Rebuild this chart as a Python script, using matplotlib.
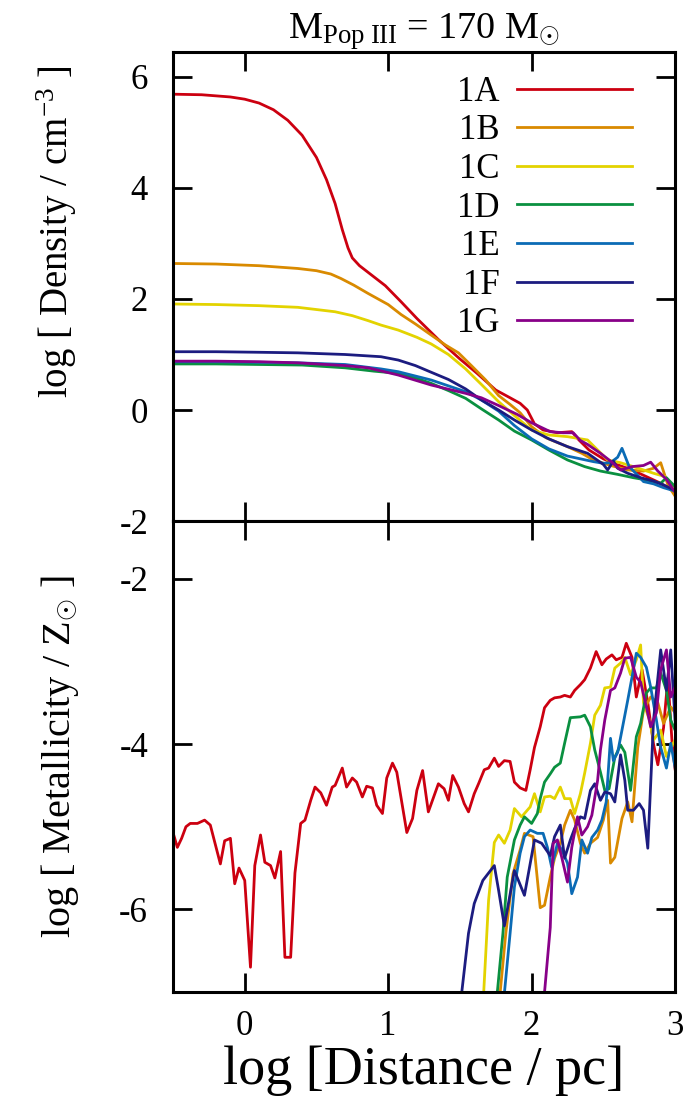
import matplotlib
matplotlib.use("Agg")
import matplotlib.pyplot as plt

plt.rcParams["font.family"] = ["Liberation Serif", "DejaVu Serif"]
plt.rcParams["mathtext.fontset"] = "custom"
plt.rcParams["mathtext.rm"] = "Liberation Serif"
plt.rcParams["mathtext.it"] = "Liberation Serif:italic"
plt.rcParams["axes.unicode_minus"] = False

# Series labels and colours
labels = ["1A", "1B", "1C", "1D", "1E", "1F", "1G"]
colors = ["#cc0010", "#d98a00", "#e3d300", "#0a9040", "#0b6bb5", "#1c1c80", "#880088"]

# ---- density profiles: log r [pc], log n [cm^-3]
dens_x_1A = [-0.5, -0.3, -0.1, 0.0, 0.1, 0.2, 0.3, 0.4, 0.5, 0.57, 0.63, 0.68, 0.72, 0.75, 0.8, 0.88,
             0.98, 1.09, 1.2, 1.35, 1.5, 1.62, 1.75, 1.85, 1.92, 1.97, 2.02, 2.08, 2.18, 2.28, 2.33,
             2.4, 2.5, 2.58, 2.7, 2.8, 2.9, 3.0]
dens_y_1A = [5.69, 5.68, 5.64, 5.6, 5.53, 5.41, 5.22, 4.95, 4.55, 4.15, 3.72, 3.25, 2.92, 2.74, 2.6,
             2.44, 2.24, 1.95, 1.65, 1.27, 0.92, 0.66, 0.36, 0.22, 0.12, 0.0, -0.25, -0.36, -0.41,
             -0.39, -0.54, -0.72, -0.88, -0.97, -1.08, -1.2, -1.32, -1.48]

dens_x_1B = [-0.5, -0.2, 0.1, 0.37, 0.5, 0.6, 0.67, 0.76, 0.86, 1.0, 1.09, 1.19, 1.3, 1.4, 1.49, 1.58,
             1.68, 1.77, 1.85, 1.92, 2.0, 2.1, 2.25, 2.35, 2.43, 2.55, 2.67, 2.78, 2.85, 2.9, 2.95, 3.0]
dens_y_1B = [2.64, 2.63, 2.6, 2.55, 2.51, 2.45, 2.37, 2.25, 2.1, 1.9, 1.72, 1.55, 1.35, 1.17, 1.03, 0.8,
             0.54, 0.26, 0.1, -0.05, -0.3, -0.5, -0.66, -0.78, -0.9, -1.0, -1.08, -1.1, -1.05, -0.95,
             -1.35, -1.55]

dens_x_1C = [-0.5, -0.2, 0.1, 0.37, 0.63, 0.75, 0.86, 0.95, 1.07, 1.2, 1.3, 1.42, 1.54, 1.65, 1.77,
             1.88, 2.0, 2.12, 2.25, 2.39, 2.46, 2.53, 2.62, 2.71, 2.85, 2.93, 3.0]
dens_y_1C = [1.91, 1.9, 1.88, 1.85, 1.77, 1.7, 1.61, 1.53, 1.44, 1.31, 1.19, 1.0, 0.74, 0.46, 0.15,
             -0.1, -0.36, -0.45, -0.48, -0.54, -0.72, -0.9, -0.95, -1.02, -1.14, -1.2, -1.42]

dens_x_1D = [-0.5, -0.2, 0.1, 0.4, 0.7, 0.9, 1.07, 1.2, 1.3, 1.42, 1.54, 1.65, 1.77, 1.88, 2.0, 2.12,
             2.25, 2.37, 2.48, 2.6, 2.71, 2.8, 2.9, 2.94, 2.97, 3.0]
dens_y_1D = [0.83, 0.83, 0.82, 0.81, 0.76, 0.7, 0.66, 0.57, 0.48, 0.35, 0.21, 0.02, -0.18, -0.38,
             -0.54, -0.72, -0.9, -1.02, -1.1, -1.16, -1.22, -1.26, -1.32, -1.22, -1.3, -1.38]

dens_x_1E = [-0.5, -0.2, 0.1, 0.37, 0.7, 0.95, 1.07, 1.3, 1.54, 1.65, 1.77, 1.88, 2.0, 2.12, 2.25,
             2.43, 2.5, 2.55, 2.6, 2.63, 2.68, 2.73, 2.78, 2.85, 2.92, 3.0]
dens_y_1E = [0.87, 0.87, 0.86, 0.85, 0.82, 0.74, 0.69, 0.54, 0.33, 0.18, -0.02, -0.28, -0.52, -0.7,
             -0.83, -0.93, -0.96, -0.95, -0.85, -0.69, -1.02, -1.15, -1.29, -1.33, -1.4, -1.46]

dens_x_1F = [-0.5, -0.2, 0.1, 0.37, 0.7, 0.95, 1.07, 1.19, 1.3, 1.42, 1.54, 1.65, 1.77, 1.88, 2.0,
             2.12, 2.25, 2.39, 2.5, 2.53, 2.57, 2.6, 2.67, 2.76, 2.85, 2.92, 3.0]
dens_y_1F = [1.05, 1.05, 1.04, 1.03, 1.0, 0.96, 0.9, 0.8, 0.68, 0.55, 0.38, 0.18, 0.0, -0.18, -0.36,
             -0.52, -0.66, -0.78, -0.98, -1.08, -0.92, -1.05, -1.14, -1.22, -1.28, -1.35, -1.45]

dens_x_1G = [-0.5, -0.2, 0.1, 0.37, 0.7, 0.86, 1.07, 1.3, 1.54, 1.65, 1.77, 1.9, 2.0, 2.13, 2.22,
             2.29, 2.34, 2.39, 2.48, 2.55, 2.62, 2.7, 2.78, 2.83, 2.88, 2.94, 3.0]
dens_y_1G = [0.88, 0.88, 0.87, 0.85, 0.8, 0.76, 0.63, 0.45, 0.3, 0.22, 0.08, -0.08, -0.23, -0.39,
             -0.41, -0.41, -0.55, -0.62, -0.78, -0.92, -1.08, -1.02, -1.0, -0.94, -1.1, -1.25, -1.48]

# ---- metallicity profiles: log r [pc], log Z [Zsun]
met_x_1A = [-0.5, -0.47, -0.44, -0.41, -0.38, -0.33, -0.28, -0.24, -0.17, -0.14, -0.1, -0.07, -0.04,
            0.0, 0.04, 0.07, 0.11, 0.14, 0.18, 0.21, 0.25, 0.28, 0.32, 0.35, 0.39, 0.42, 0.46, 0.49,
            0.53, 0.57, 0.61, 0.63, 0.68, 0.71, 0.75, 0.78, 0.82, 0.85, 0.89, 0.92, 0.96, 0.99, 1.03,
            1.06, 1.13, 1.17, 1.2, 1.24, 1.28, 1.35, 1.39, 1.42, 1.45, 1.49, 1.53, 1.56, 1.6, 1.63,
            1.67, 1.7, 1.74, 1.77, 1.81, 1.85, 1.88, 1.92, 1.96, 1.99, 2.02, 2.06, 2.09, 2.13, 2.16,
            2.2, 2.23, 2.27, 2.3, 2.34, 2.37, 2.41, 2.45, 2.49, 2.52, 2.56, 2.59, 2.63, 2.66, 2.7,
            2.73, 2.77, 2.81, 2.85, 2.88, 2.92, 2.95, 2.98, 3.0]
met_y_1A = [-5.07, -5.25, -5.14, -5.0, -4.96, -4.96, -4.92, -4.98, -5.45, -5.17, -5.14, -5.69, -5.5,
            -5.65, -6.7, -5.47, -5.1, -5.43, -5.47, -5.62, -5.3, -6.58, -6.58, -5.56, -4.96, -4.92,
            -4.68, -4.52, -4.59, -4.74, -4.52, -4.5, -4.29, -4.52, -4.41, -4.46, -4.64, -4.51, -4.53,
            -4.74, -4.84, -4.41, -4.23, -4.34, -5.07, -4.9, -4.56, -4.32, -4.82, -4.48, -4.54, -4.68,
            -4.38, -4.52, -4.72, -4.82, -4.6, -4.48, -4.31, -4.29, -4.17, -4.27, -4.2, -4.21, -4.46,
            -4.53, -4.56, -4.31, -4.04, -3.79, -3.56, -3.47, -3.44, -3.43, -3.41, -3.43, -3.35, -3.28,
            -3.22, -3.08, -2.88, -3.04, -2.97, -2.92, -2.98, -2.95, -2.78, -2.95, -3.43, -3.1, -3.5,
            -4.0, -4.25, -3.8, -3.2, -4.0, -4.3]

met_x_1B = [1.77, 1.82, 1.87, 1.92, 1.95, 2.01, 2.06, 2.09, 2.13, 2.16, 2.2, 2.23, 2.27, 2.3, 2.34,
            2.37, 2.41, 2.46, 2.5, 2.53, 2.55, 2.58, 2.63, 2.67, 2.7, 2.74, 2.78, 2.83, 2.88, 2.92,
            2.97, 3.0]
met_y_1B = [-7.2, -6.29, -5.57, -5.28, -5.08, -5.12, -5.98, -5.95, -5.61, -5.38, -5.2, -4.98, -4.8,
            -4.92, -5.2, -5.32, -5.2, -5.13, -4.92, -4.68, -5.44, -5.37, -4.9, -4.7, -4.94, -4.04,
            -3.59, -3.43, -3.5, -3.75, -3.55, -3.62]

met_x_1C = [1.66, 1.7, 1.74, 1.77, 1.81, 1.85, 1.88, 1.93, 1.99, 2.02, 2.06, 2.09, 2.13, 2.16, 2.2,
            2.23, 2.27, 2.3, 2.34, 2.37, 2.41, 2.44, 2.48, 2.51, 2.55, 2.58, 2.62, 2.65, 2.69, 2.73,
            2.76, 2.78, 2.82, 2.85, 2.9, 2.94, 3.0]
met_y_1C = [-7.2, -5.89, -5.19, -5.1, -5.2, -5.04, -4.78, -4.88, -4.76, -4.6, -4.82, -4.64, -4.63,
            -4.66, -4.52, -4.66, -4.66, -4.84, -4.6, -4.35, -3.99, -3.65, -3.53, -3.32, -3.31, -3.08,
            -3.02, -2.95, -3.16, -2.98, -2.8, -3.5, -3.7, -3.95, -3.83, -4.15, -3.95]

met_x_1D = [1.75, 1.8, 1.83, 1.88, 1.92, 1.95, 2.0, 2.04, 2.06, 2.09, 2.13, 2.16, 2.2, 2.23, 2.27,
            2.34, 2.37, 2.41, 2.44, 2.48, 2.51, 2.54, 2.58, 2.62, 2.65, 2.69, 2.73, 2.76, 2.8, 2.83,
            2.87, 2.9, 2.94, 2.97, 3.0]
met_y_1D = [-7.2, -6.29, -5.61, -5.16, -4.98, -4.88, -4.96, -4.84, -4.66, -4.46, -4.36, -4.28, -4.23,
            -3.99, -3.68, -3.67, -3.65, -3.79, -4.07, -4.34, -4.56, -4.54, -4.16, -4.01, -4.1, -4.56,
            -3.91, -3.75, -3.38, -3.32, -3.32, -3.14, -3.35, -3.71, -3.83]

met_x_1E = [1.8, 1.85, 1.88, 1.92, 1.95, 1.99, 2.04, 2.08, 2.11, 2.14, 2.18, 2.21, 2.25, 2.28, 2.32,
            2.35, 2.39, 2.42, 2.46, 2.49, 2.52, 2.55, 2.57, 2.6, 2.63, 2.67, 2.7, 2.73, 2.76, 2.8,
            2.83, 2.87, 2.9, 2.94, 2.97, 3.0]
met_y_1E = [-7.2, -6.29, -5.73, -5.32, -5.12, -5.04, -5.08, -5.08, -5.25, -5.49, -5.2, -5.28, -5.44,
            -5.81, -5.61, -5.16, -5.32, -5.13, -5.04, -4.92, -4.7, -3.93, -4.2, -4.1, -3.83, -3.47,
            -3.19, -2.9, -2.95, -3.07, -3.31, -3.71, -4.04, -4.29, -3.99, -4.28]

met_x_1F = [1.5, 1.56, 1.6, 1.66, 1.74, 1.77, 1.81, 1.88, 1.95, 2.02, 2.07, 2.13, 2.16, 2.2, 2.23,
            2.27, 2.3, 2.34, 2.37, 2.41, 2.44, 2.48, 2.51, 2.55, 2.58, 2.62, 2.65, 2.67, 2.71, 2.75,
            2.78, 2.81, 2.85, 2.9, 2.94, 2.97, 3.0]
met_y_1F = [-7.2, -6.29, -5.93, -5.65, -5.47, -5.77, -6.2, -5.53, -5.83, -5.16, -5.2, -5.35, -5.12,
            -4.98, -5.38, -5.16, -5.02, -4.88, -4.9, -4.56, -4.48, -4.68, -4.58, -4.6, -4.7, -4.13,
            -4.44, -4.8, -4.8, -4.72, -4.8, -5.26, -3.71, -2.86, -3.35, -2.86, -3.71]

met_x_1G = [2.08, 2.13, 2.15, 2.18, 2.21, 2.25, 2.28, 2.32, 2.35, 2.39, 2.42, 2.46, 2.48, 2.51, 2.55,
            2.58, 2.62, 2.65, 2.69, 2.73, 2.76, 2.8, 2.83, 2.87, 2.9, 2.94, 2.97, 3.0]
met_y_1G = [-7.2, -6.22, -5.2, -5.16, -5.37, -5.67, -5.25, -4.88, -5.1, -5.0, -4.86, -4.44, -4.07,
            -3.71, -3.35, -3.32, -3.14, -2.96, -2.95, -3.19, -3.25, -3.55, -3.79, -3.62, -3.1, -2.86,
            -3.43, -3.31]

dens_x = [dens_x_1A, dens_x_1B, dens_x_1C, dens_x_1D, dens_x_1E, dens_x_1F, dens_x_1G]
dens_y = [dens_y_1A, dens_y_1B, dens_y_1C, dens_y_1D, dens_y_1E, dens_y_1F, dens_y_1G]
met_x = [met_x_1A, met_x_1B, met_x_1C, met_x_1D, met_x_1E, met_x_1F, met_x_1G]
met_y = [met_y_1A, met_y_1B, met_y_1C, met_y_1D, met_y_1E, met_y_1F, met_y_1G]

fig = plt.figure(figsize=(6.96, 11.09), dpi=100)
ax1 = fig.add_axes([0.2486, 0.5302, 0.7213, 0.4229])
ax2 = fig.add_axes([0.2486, 0.1055, 0.7213, 0.4247])

LW = 2.0
for i in range(len(labels)):
    ax1.plot(dens_x[i], dens_y[i], color=colors[i], lw=LW, label=labels[i])
for i in range(len(labels)):
    ax2.plot(met_x[i], met_y[i], color=colors[i], lw=LW)

for ax in (ax1, ax2):
    ax.set_xlim(-0.5, 3.0)
    ax.set_xticks([0, 1, 2, 3])
    ax.tick_params(which="both", direction="in", top=True, right=True,
                   length=14, width=2.0, labelsize=25)
    ax.tick_params(axis="y", pad=18)
    ax.tick_params(axis="x", pad=13)
    for sp in ax.spines.values():
        sp.set_linewidth(2.2)

ax1.set_ylim(-2, 6.45)
ax1.set_yticks([-2, 0, 2, 4, 6])
ax1.tick_params(labelbottom=False)
ax2.set_ylim(-7, -1.3)
ax2.set_yticks([-6, -4, -2])

ax1.set_ylabel(r"log [ Density / cm$^{\mathregular{-3}}$ ]", fontsize=28, va="center")
ax2.set_ylabel(r"log [ Metallicity / Z$_{\odot}$ ]", fontsize=29, va="center")
ax1.yaxis.set_label_coords(-0.232, 0.616)
ax2.yaxis.set_label_coords(-0.226, 0.5)
ax2.set_xlabel("log [Distance / pc]", fontsize=39, labelpad=2)
ax1.set_title(r"M$_{\mathregular{Pop\ III}}$ = 170 M$_{\odot}$", fontsize=27.5, pad=4)

ax1.legend(loc="upper right", bbox_to_anchor=(0.914, 0.949), frameon=False,
           markerfirst=False, fontsize=25, handlelength=3.3, handletextpad=0.5,
           labelspacing=0.16, borderpad=0, borderaxespad=0)

fig.savefig("out.png", dpi=100)
